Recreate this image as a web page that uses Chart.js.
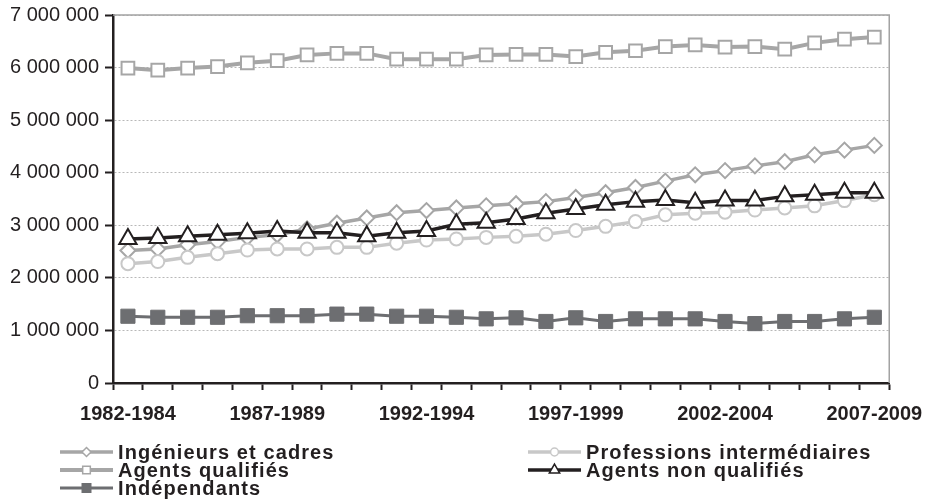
<!DOCTYPE html>
<html>
<head>
<meta charset="utf-8">
<script src="https://cdn.jsdelivr.net/npm/chart.js@4.4.1/dist/chart.umd.min.js"></script>
<style>
  html, body { margin: 0; padding: 0; background: #fff; }
  #wrap { width: 935px; height: 500px; }
</style>
</head>
<body>
<div id="wrap"><canvas id="lineChart" width="935" height="500"></canvas></div>
<script>
// periods (moyennes sur 3 ans)
const periods = [
  '1982-1984', '1983-1985', '1984-1986', '1985-1987', '1986-1988', '1987-1989',
  '1988-1990', '1989-1991', '1990-1992', '1991-1993', '1992-1994', '1993-1995',
  '1994-1996', '1995-1997', '1996-1998', '1997-1999', '1998-2000', '1999-2001',
  '2000-2002', '2001-2003', '2002-2004', '2003-2005', '2004-2006', '2005-2007',
  '2006-2008', '2007-2009'
];

const ingenieurs = [
  2520000, 2550000, 2630000, 2690000, 2770000, 2820000, 2930000, 3040000, 3140000,
  3240000, 3280000, 3330000, 3370000, 3410000, 3450000, 3530000, 3620000, 3720000,
  3840000, 3960000, 4040000, 4130000, 4210000, 4340000, 4430000, 4520000
];
const professions = [
  2270000, 2310000, 2390000, 2460000, 2530000, 2550000, 2550000, 2580000, 2580000,
  2660000, 2720000, 2740000, 2770000, 2790000, 2830000, 2900000, 2980000, 3070000,
  3200000, 3230000, 3250000, 3290000, 3330000, 3370000, 3470000, 3580000
];
const agentsQualifies = [
  5990000, 5950000, 5990000, 6020000, 6090000, 6130000, 6240000, 6270000, 6270000,
  6160000, 6160000, 6160000, 6240000, 6250000, 6250000, 6210000, 6290000, 6320000,
  6400000, 6430000, 6390000, 6400000, 6350000, 6470000, 6540000, 6580000
];
const agentsNonQualifies = [
  2740000, 2760000, 2790000, 2820000, 2850000, 2890000, 2860000, 2860000, 2790000,
  2860000, 2890000, 3020000, 3050000, 3120000, 3230000, 3310000, 3390000, 3450000,
  3480000, 3430000, 3470000, 3470000, 3550000, 3580000, 3620000, 3620000
];
const independants = [
  1270000, 1250000, 1250000, 1250000, 1280000, 1280000, 1280000, 1310000, 1310000,
  1270000, 1270000, 1250000, 1220000, 1240000, 1170000, 1240000, 1170000, 1220000,
  1220000, 1220000, 1170000, 1130000, 1170000, 1170000, 1220000, 1250000
];

const yMax = 7000000;
const yStep = 1000000;

const fmt = v => String(v).replace(/\B(?=(\d{3})+(?!\d))/g, ' ');

// frame on top and right of the plot
const frame = {
  id: 'frame',
  beforeDatasetsDraw(chart) {
    const {ctx, chartArea: a} = chart;
    ctx.save();
    ctx.strokeStyle = '#a3a3a3';
    ctx.lineWidth = 1.5;
    ctx.beginPath();
    ctx.moveTo(a.left, a.top);
    ctx.lineTo(a.right, a.top);
    ctx.lineTo(a.right, a.bottom);
    ctx.stroke();
    ctx.restore();
  }
};

// two-column legend below the axis
const gridLegend = {
  id: 'gridLegend',
  afterDraw(chart, args, opts) {
    const ctx = chart.ctx;
    ctx.save();
    ctx.font = 'bold 20px "Liberation Sans", Arial, sans-serif';
    ctx.fillStyle = '#231f20';
    ctx.textBaseline = 'middle';
    if ('letterSpacing' in ctx) ctx.letterSpacing = '1.1px';
    opts.items.forEach(it => {
      const ds = chart.data.datasets[it.index];
      const y = opts.rowY[it.row];
      const x0 = opts.colX[it.col];
      ctx.save();
      ctx.strokeStyle = ds.borderColor;
      ctx.lineWidth = ds.borderWidth;
      ctx.beginPath();
      ctx.moveTo(x0, y);
      ctx.lineTo(x0 + opts.sample, y);
      ctx.stroke();
      ctx.fillStyle = ds.pointBackgroundColor;
      ctx.strokeStyle = ds.pointBorderColor;
      ctx.lineWidth = 1.5;
      Chart.helpers.drawPoint(ctx, {pointStyle: ds.pointStyle, radius: ds.pointRadius * 0.6, borderWidth: 1.5}, x0 + opts.sample / 2, y);
      ctx.restore();
      ctx.fillText(ds.label, x0 + opts.sample + 5, y + 1);
    });
    ctx.restore();
  }
};

const data = {
  labels: periods,
  datasets: [
    {
      label: 'Ingénieurs et cadres',
      data: ingenieurs,
      borderColor: '#a6a6a6',
      borderWidth: 3.5,
      pointStyle: 'rectRot',
      pointRadius: 7.5,
      pointBackgroundColor: '#ffffff',
      pointBorderColor: '#a6a6a6',
      pointBorderWidth: 2,
      order: 5
    },
    {
      label: 'Professions intermédiaires',
      data: professions,
      borderColor: '#c8c8c8',
      borderWidth: 3.5,
      pointStyle: 'circle',
      pointRadius: 6.5,
      pointBackgroundColor: '#ffffff',
      pointBorderColor: '#c8c8c8',
      pointBorderWidth: 2,
      order: 4
    },
    {
      label: 'Agents qualifiés',
      data: agentsQualifies,
      borderColor: '#a6a6a6',
      borderWidth: 4,
      pointStyle: 'rect',
      pointRadius: 9,
      pointBackgroundColor: '#ffffff',
      pointBorderColor: '#a6a6a6',
      pointBorderWidth: 2,
      order: 3
    },
    {
      label: 'Agents non qualifiés',
      data: agentsNonQualifies,
      borderColor: '#231f20',
      borderWidth: 3.5,
      pointStyle: 'triangle',
      pointRadius: 10,
      pointBackgroundColor: '#ffffff',
      pointBorderColor: '#231f20',
      pointBorderWidth: 2,
      order: 2
    },
    {
      label: 'Indépendants',
      data: independants,
      borderColor: '#6d6e71',
      borderWidth: 3,
      pointStyle: 'rect',
      pointRadius: 10,
      pointBackgroundColor: '#6d6e71',
      pointBorderColor: '#6d6e71',
      pointBorderWidth: 1,
      order: 1
    }
  ]
};

const config = {
  type: 'line',
  data: data,
  plugins: [frame, gridLegend],
  options: {
    responsive: false,
    animation: false,
    devicePixelRatio: 1,
    layout: { padding: { top: 15, right: 45, left: 0, bottom: 0 } },
    elements: { line: { tension: 0 } },
    scales: {
      x: {
        type: 'category',
        offset: true,
        afterFit: s => { s.height = 117; },
        grid: {
          offset: true,
          drawOnChartArea: false,
          drawTicks: true,
          tickLength: 7,
          tickColor: '#231f20',
          tickWidth: 2
        },
        border: { color: '#231f20', width: 2.5 },
        ticks: {
          autoSkip: false,
          maxRotation: 0,
          padding: 12,
          color: '#231f20',
          font: { family: '"Liberation Sans", Arial, sans-serif', size: 20, weight: 'bold' },
          callback: (v, i) => (i % 5 === 0 ? periods[i] : '')
        }
      },
      y: {
        min: 0,
        max: yMax,
        afterFit: s => { s.width = 113; s.paddingTop = 0; },
        grid: {
          color: '#b8b8b8',
          lineWidth: 1,
          tickLength: 8,
          tickColor: '#231f20',
          tickWidth: 2
        },
        border: { color: '#231f20', width: 2.5, dash: [2, 2] },
        ticks: {
          stepSize: yStep,
          padding: 6,
          color: '#231f20',
          font: { family: '"Liberation Sans", Arial, sans-serif', size: 20, lineHeight: 1 },
          callback: v => fmt(v)
        }
      }
    },
    plugins: {
      legend: { display: false },
      tooltip: { enabled: false },
      gridLegend: {
        colX: [60, 528],
        rowY: [452, 470, 488],
        sample: 53,
        items: [
          { index: 0, col: 0, row: 0 },
          { index: 2, col: 0, row: 1 },
          { index: 4, col: 0, row: 2 },
          { index: 1, col: 1, row: 0 },
          { index: 3, col: 1, row: 1 }
        ]
      }
    }
  }
};

const chart = new Chart(document.getElementById('lineChart').getContext('2d'), config);
</script>
</body>
</html>
